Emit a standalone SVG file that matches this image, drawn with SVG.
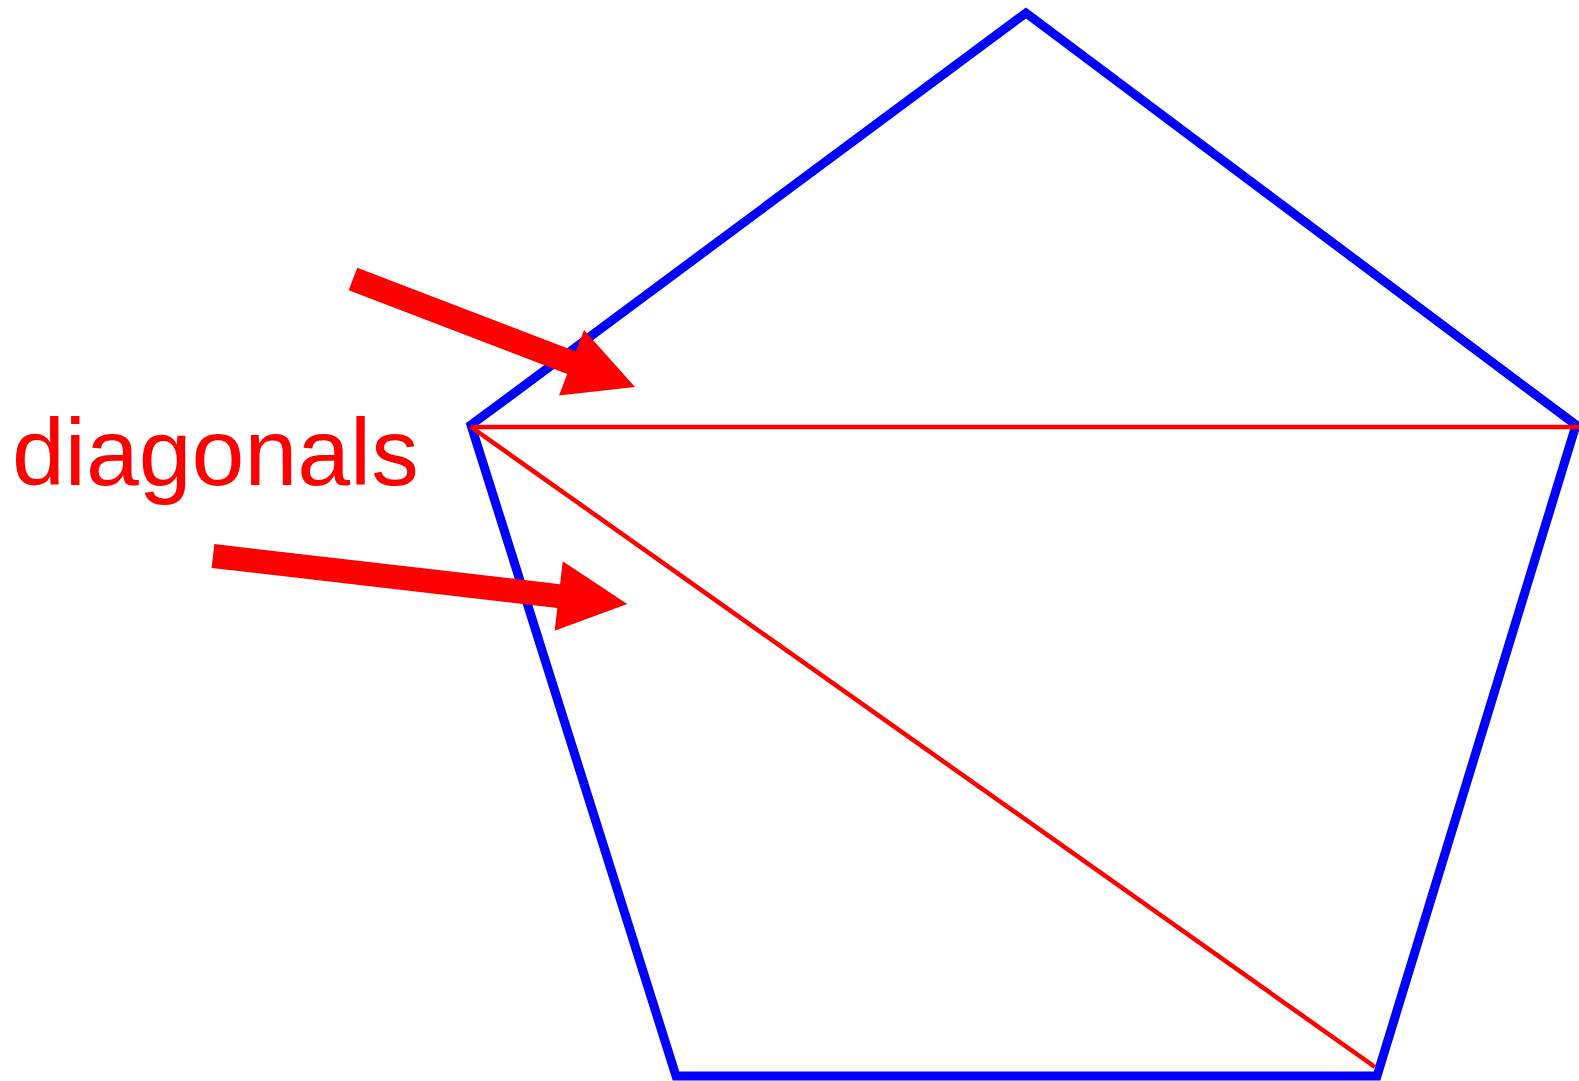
<svg xmlns="http://www.w3.org/2000/svg" width="1579" height="1081" viewBox="0 0 1579 1081">
<style>
.edge{fill:none;stroke:#0000ff;stroke-width:9;stroke-linejoin:miter}
.diag{fill:none;stroke:#ff0000;stroke-width:4.5}
.arrow{fill:#ff0000;stroke:none}
.label{fill:#ff0000;font-family:"Liberation Sans",Arial,sans-serif;font-size:95px}
</style>
<rect width="1579" height="1081" fill="#ffffff"/>
<g id="pentagon">
<polygon class="edge" points="1026,13 1576,425 1377,1076 676,1076 471,425"/>
</g>
<g id="connectors">
<line class="diag" x1="471" y1="427" x2="1579" y2="427"/>
<line class="diag" x1="471" y1="427" x2="1375" y2="1067"/>
<polygon class="arrow" transform="translate(353,279) rotate(20.96)" points="0,-12 234,-12 234,-35 302,0 234,35 234,12 0,12"/>
<polygon class="arrow" transform="translate(213,556) rotate(6.61)" points="0,-12 348,-12 348,-35 417,0 348,35 348,12 0,12"/>
</g>
<g id="label">
<text class="label" x="12" y="485">diagonals</text>
</g>
</svg>
